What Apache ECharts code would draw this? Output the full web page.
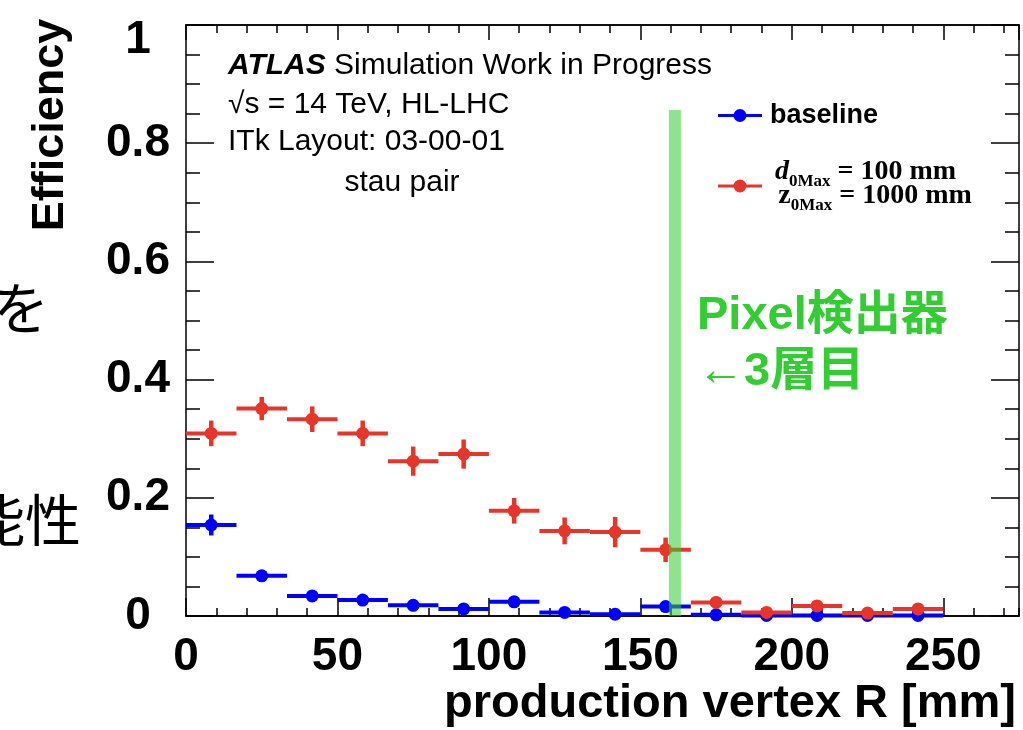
<!DOCTYPE html>
<html>
<head>
<meta charset="utf-8">
<script src="https://cdn.jsdelivr.net/npm/echarts@6/dist/echarts.min.js"></script>
<style>
html,body{margin:0;padding:0;background:#fff;}
#main{width:1023px;height:730px;}
</style>
</head>
<body>
<div id="main"></div>
<script>
// production vertex R bins [mm], 15 bins of 50/3 mm
var binCenters = [8.33, 25, 41.67, 58.33, 75, 91.67, 108.33, 125, 141.67, 158.33, 175, 191.67, 208.33, 225, 241.67];
var binHalfWidth = 8.33;
// efficiency + stat. error, baseline tracking
var baselineEff = [0.154, 0.068, 0.034, 0.027, 0.018, 0.012, 0.024, 0.006, 0.003, 0.016, 0.002, 0.001, 0.001, 0.001, 0.001];
var baselineErr = [0.016, 0.008, 0.005, 0.005, 0.004, 0.003, 0.005, 0.003, 0.002, 0.004, 0.001, 0.001, 0.001, 0.001, 0.001];
// efficiency + stat. error, loose d0/z0 cuts
var looseEff = [0.309, 0.351, 0.333, 0.309, 0.262, 0.274, 0.178, 0.144, 0.142, 0.112, 0.023, 0.006, 0.017, 0.005, 0.012];
var looseErr = [0.020, 0.018, 0.020, 0.020, 0.023, 0.023, 0.020, 0.021, 0.024, 0.019, 0.008, 0.005, 0.006, 0.004, 0.005];
// pixel 3rd layer position
var pixelLayerR = [161.4];
var pixelLineTop = [0.856];

var xMin = 0, xMax = 275, xMajor = 50, xMinor = 10;
var yMin = 0, yMax = 1, yMajor = 0.2;

var sans = 'Liberation Sans, Arial, sans-serif';
var cjk = 'Liberation Sans, Noto Sans CJK JP, sans-serif';
var blue = '#0000ff';
var red = '#e8352a';
var green = 'rgb(50,205,50)';

function toPoints(eff, err) {
  return binCenters.map(function (x, i) { return [x, eff[i], err[i]]; });
}

function errorItem(color) {
  return function (params, api) {
    var x = api.value(0), y = api.value(1), e = api.value(2);
    var l = api.coord([x - binHalfWidth, y]);
    var r = api.coord([x + binHalfWidth, y]);
    var lo = api.coord([x, y - e]);
    var hi = api.coord([x, y + e]);
    var c = api.coord([x, y]);
    return {
      type: 'group',
      children: [
        { type: 'line', shape: { x1: l[0], y1: l[1], x2: r[0], y2: r[1] }, style: { stroke: color, lineWidth: 4 } },
        { type: 'line', shape: { x1: lo[0], y1: lo[1] + 1, x2: hi[0], y2: hi[1] - 1 }, style: { stroke: color, lineWidth: 4.5 } },
        { type: 'circle', shape: { cx: c[0], cy: c[1], r: 6.5 }, style: { fill: color } }
      ]
    };
  };
}

var legendIcon = 'path://M0,5.5H44V8.5H0Z M22,0.5A6.5,6.5 0 1,1 22,13.5A6.5,6.5 0 1,1 22,0.5Z';
var tickStyle = { color: '#000', width: 1.5 };

function xAx(pos, interval, len, labels) {
  return {
    type: 'value', min: xMin, max: xMax, interval: interval, position: pos,
    axisLine: { show: true, onZero: false, lineStyle: tickStyle },
    axisTick: { inside: true, length: len, lineStyle: tickStyle },
    axisLabel: labels ? {
      show: true, showMaxLabel: false, margin: 18, color: '#000',
      fontFamily: sans, fontWeight: 'bold', fontSize: 46
    } : { show: false },
    splitLine: { show: false }
  };
}
function yAx(pos, labels) {
  return {
    type: 'value', min: yMin, max: yMax, interval: yMajor, position: pos,
    axisLine: { show: true, onZero: false, lineStyle: tickStyle },
    axisTick: { inside: true, length: 28, lineStyle: tickStyle },
    minorTick: { show: true, splitNumber: 4, length: 14, lineStyle: tickStyle },
    axisLabel: labels ? {
      show: true, align: 'center', margin: 48, color: '#000',
      fontFamily: sans, fontWeight: 'bold', fontSize: 46,
      formatter: function (v) { return v === 1 ? '{top|1}' : String(v); },
      rich: { top: { fontFamily: sans, fontWeight: 'bold', fontSize: 46, padding: [30, 0, 0, 0] } }
    } : { show: false },
    splitLine: { show: false }
  };
}

var chart = echarts.init(document.getElementById('main'), null, { renderer: 'canvas' });
chart.setOption({
  backgroundColor: '#fff',
  animation: false,
  grid: { left: 186, top: 25, right: 4, bottom: 114, containLabel: false },
  xAxis: [
    xAx('bottom', xMajor, 18, true),
    xAx('bottom', xMinor, 8, false),
    xAx('top', xMajor, 15, false),
    xAx('top', xMinor, 8, false)
  ],
  yAxis: [yAx('left', true), yAx('right', false)],
  legend: [
    {
      data: [{ name: 'baseline', icon: legendIcon }],
      left: 713, top: 97, itemWidth: 44, itemHeight: 13,
      textStyle: { fontFamily: sans, fontWeight: 'bold', fontSize: 27, color: '#000', padding: [0, 0, 0, 3] }
    },
    {
      data: [{ name: 'loose', icon: legendIcon }],
      left: 713, top: 153, itemWidth: 44, itemHeight: 13,
      formatter: function () {
        return '{d|d}{s|0Max}{t| = 100 mm}\n {z|z}{s|0Max}{t| = 1000 mm}';
      },
      textStyle: {
        color: '#000', padding: [0, 0, 0, 8],
        rich: {
          d: { fontFamily: 'Liberation Serif', fontStyle: 'italic', fontWeight: 'bold', fontSize: 28, lineHeight: 24, verticalAlign: 'bottom' },
          z: { fontFamily: 'Liberation Serif', fontWeight: 'bold', fontSize: 28, lineHeight: 24, verticalAlign: 'bottom' },
          s: { fontFamily: 'Liberation Serif', fontWeight: 'bold', fontSize: 17, lineHeight: 24, verticalAlign: 'bottom', padding: [0, 0, -4, 0] },
          t: { fontFamily: 'Liberation Serif', fontWeight: 'bold', fontSize: 28, lineHeight: 24, verticalAlign: 'bottom' }
        }
      }
    }
  ],
  series: [
    {
      name: 'baseline', type: 'custom', clip: false, z: 3,
      itemStyle: { color: blue },
      renderItem: errorItem(blue),
      encode: { x: 0, y: 1 },
      data: toPoints(baselineEff, baselineErr)
    },
    {
      name: 'loose', type: 'custom', clip: false, z: 4,
      itemStyle: { color: red },
      renderItem: errorItem(red),
      encode: { x: 0, y: 1 },
      data: toPoints(looseEff, looseErr)
    },
    {
      name: 'pixel', type: 'custom', z: 5, silent: true,
      renderItem: function (params, api) {
        var b = api.coord([api.value(0), 0]);
        var t = api.coord([api.value(0), api.value(1)]);
        return { type: 'rect', shape: { x: b[0] - 6, y: t[1], width: 12, height: b[1] - t[1] },
                 style: { fill: green, opacity: 0.55 } };
      },
      encode: { x: 0, y: 1 },
      data: [[pixelLayerR[0], pixelLineTop[0]]]
    }
  ],
  graphic: [
    { type: 'text', x: 228, y: 66, style: { text: '{a|ATLAS} Simulation Work in Progress', font: '30px ' + sans, fill: '#000', verticalAlign: 'middle',
      rich: { a: { fontFamily: sans, fontStyle: 'italic', fontWeight: 'bold', fontSize: 30 } } } },
    { type: 'text', x: 228, y: 105, style: { text: '√s = 14 TeV, HL-LHC', font: '30px ' + sans, fill: '#000', verticalAlign: 'middle' } },
    { type: 'text', x: 228, y: 142, style: { text: 'ITk Layout: 03-00-01', font: '30px ' + sans, fill: '#000', verticalAlign: 'middle' } },
    { type: 'text', x: 402, y: 183, style: { text: 'stau pair', font: '30px ' + sans, fill: '#000', align: 'center', verticalAlign: 'middle' } },
    { type: 'text', x: 51, y: 125, rotation: Math.PI / 2, style: { text: 'Efficiency', font: 'bold 45px ' + sans, fill: '#000', align: 'center', verticalAlign: 'middle' } },
    { type: 'text', x: 1016, y: 704, style: { text: 'production vertex R [mm]', font: 'bold 47px ' + sans, fill: '#000', align: 'right', verticalAlign: 'middle' } },
    { type: 'text', x: 697, y: 316, style: { text: 'Pixel検出器', font: 'bold 47px ' + cjk, fill: green, verticalAlign: 'middle' } },
    { type: 'text', x: 697, y: 372, style: { text: '←3層目', font: 'bold 47px ' + cjk, fill: green, verticalAlign: 'middle' } },
    { type: 'text', x: -7, y: 308, style: { text: 'を', font: '56px Noto Sans CJK JP', fill: '#000', verticalAlign: 'middle' } },
    { type: 'text', x: -31, y: 520, style: { text: '能性', font: '56px Noto Sans CJK JP', fill: '#000', verticalAlign: 'middle' } }
  ]
});
</script>
</body>
</html>
